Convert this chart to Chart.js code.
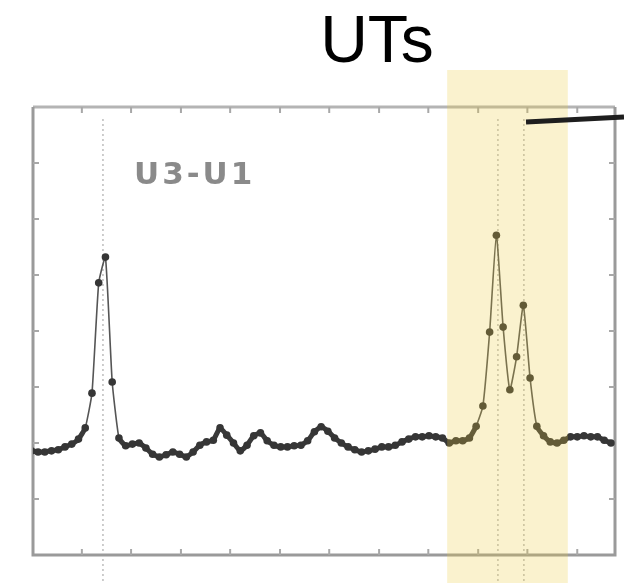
<!DOCTYPE html>
<html>
<head>
<meta charset="utf-8">
<script src="https://cdn.jsdelivr.net/npm/chart.js@4/dist/chart.umd.min.js"></script>
<style>
  html, body { margin: 0; padding: 0; background: #ffffff; }
  #wrap { width: 624px; height: 583px; }
</style>
</head>
<body>
<div id="wrap"><canvas id="uts"></canvas></div>
<script>
// U3-U1 trace, one value per sample step
const signal = [
  1.86, 1.84, 1.84, 1.86, 1.88, 1.93, 1.98, 2.07, 2.27, 2.89,
  4.86, 5.32, 3.09, 2.09, 1.95, 1.98, 2.00, 1.91, 1.80, 1.75,
  1.79, 1.84, 1.80, 1.75, 1.84, 1.96, 2.02, 2.05, 2.27, 2.14,
  2.00, 1.86, 1.96, 2.13, 2.18, 2.04, 1.96, 1.93, 1.93, 1.95,
  1.96, 2.04, 2.20, 2.29, 2.21, 2.09, 2.00, 1.93, 1.88, 1.84,
  1.86, 1.89, 1.93, 1.93, 1.96, 2.02, 2.07, 2.11, 2.11, 2.13,
  2.11, 2.09, 2.00, 2.04, 2.04, 2.09, 2.30, 2.66, 3.98, 5.71,
  4.07, 2.95, 3.54, 4.46, 3.16, 2.30, 2.13, 2.02, 2.00, 2.05,
  2.11, 2.11, 2.13, 2.11, 2.11, 2.05, 2.00
];

// axis tick positions (no labels on this panel)
const xTicks = [7.5, 14.8, 22.2, 29.5, 36.9, 44.2, 51.6, 58.9, 66.3, 73.6, 81.0];
const yTicks = [1, 2, 3, 4, 5, 6, 7];

// highlighted UT window and dotted reference lines
const utBand = [61.7, 79.6];
const refLines = [10.63, 69.23, 73.08];
// pointer line leaving the panel to the right
const pointer = { x: 73.4, yStart: 7.73, yEnd: 7.82 };

const points = signal.map((v, i) => ({ x: i, y: v }));

const framePlugin = {
  id: 'frame',
  beforeDatasetsDraw(chart) {
    const { ctx, chartArea: a, scales: { x, y } } = chart;
    ctx.save();

    // dotted reference lines
    ctx.strokeStyle = '#bdbdbd';
    ctx.lineWidth = 1.5;
    ctx.setLineDash([2, 3]);
    refLines.forEach(v => {
      const px = x.getPixelForValue(v);
      ctx.beginPath();
      ctx.moveTo(px, a.top + 12);
      ctx.lineTo(px, chart.height);
      ctx.stroke();
    });
    ctx.setLineDash([]);

    // box: top edge a little lighter
    ctx.lineWidth = 3;
    ctx.strokeStyle = '#b4b4b4';
    ctx.beginPath();
    ctx.moveTo(a.left, a.top); ctx.lineTo(a.right, a.top);
    ctx.stroke();
    ctx.strokeStyle = '#9a9a9a';
    ctx.beginPath();
    ctx.moveTo(a.left, a.top); ctx.lineTo(a.left, a.bottom);
    ctx.lineTo(a.right, a.bottom); ctx.lineTo(a.right, a.top);
    ctx.stroke();

    // inward ticks
    ctx.lineWidth = 2;
    ctx.strokeStyle = '#a8a8a8';
    xTicks.forEach(v => {
      const px = x.getPixelForValue(v);
      ctx.beginPath();
      ctx.moveTo(px, a.bottom); ctx.lineTo(px, a.bottom - 6);
      ctx.moveTo(px, a.top); ctx.lineTo(px, a.top + 6);
      ctx.stroke();
    });
    yTicks.forEach(v => {
      const py = y.getPixelForValue(v);
      ctx.beginPath();
      ctx.moveTo(a.left, py); ctx.lineTo(a.left + 6, py);
      ctx.moveTo(a.right, py); ctx.lineTo(a.right - 6, py);
      ctx.stroke();
    });

    // panel label
    ctx.fillStyle = '#8a8a8a';
    ctx.font = 'bold 31px "DejaVu Sans"';
    ctx.letterSpacing = '3px';
    ctx.textBaseline = 'alphabetic';
    ctx.textAlign = 'left';
    ctx.fillText('U3-U1', 134, 184);
    ctx.restore();
  },
  afterDatasetsDraw(chart) {
    const { ctx, scales: { x, y } } = chart;
    ctx.save();

    // translucent yellow window over the trace
    const x0 = x.getPixelForValue(utBand[0]);
    const x1 = x.getPixelForValue(utBand[1]);
    ctx.fillStyle = 'rgba(235, 205, 60, 0.25)';
    ctx.fillRect(x0, 70, x1 - x0, chart.height - 70);

    // pointer line
    ctx.strokeStyle = '#1e1e1e';
    ctx.lineWidth = 5;
    ctx.beginPath();
    ctx.moveTo(x.getPixelForValue(pointer.x), y.getPixelForValue(pointer.yStart));
    ctx.lineTo(chart.width, y.getPixelForValue(pointer.yEnd));
    ctx.stroke();

    // title
    ctx.fillStyle = '#000000';
    ctx.font = '66px "Liberation Sans", Arial, sans-serif';
    ctx.textAlign = 'center';
    ctx.textBaseline = 'alphabetic';
    ctx.fillText('UTs', 377, 62);
    ctx.restore();
  }
};

// flat stretches read as a thick band, steep flanks as a thin line
const steep = c => Math.abs(c.p1.y - c.p0.y) > 14;

new Chart(document.getElementById('uts'), {
  type: 'line',
  data: {
    datasets: [{
      label: 'U3-U1',
      data: points,
      borderColor: '#3a3a3a',
      backgroundColor: '#363636',
      borderWidth: 2,
      pointRadius: 3.8,
      pointBorderWidth: 0,
      tension: 0.15,
      segment: {
        borderWidth: c => steep(c) ? 1.6 : 5,
        borderColor: c => steep(c) ? '#555555' : '#3a3a3a'
      }
    }]
  },
  options: {
    responsive: true,
    maintainAspectRatio: false,
    animation: false,
    layout: { padding: { top: 107, left: 33, right: 9, bottom: 28 } },
    plugins: {
      legend: { display: false },
      tooltip: { enabled: false },
      title: { display: false }
    },
    scales: {
      x: { type: 'linear', min: 0.25, max: 86.6, display: false },
      y: { type: 'linear', min: 0, max: 8, display: false }
    }
  },
  plugins: [framePlugin]
});
</script>
</body>
</html>
